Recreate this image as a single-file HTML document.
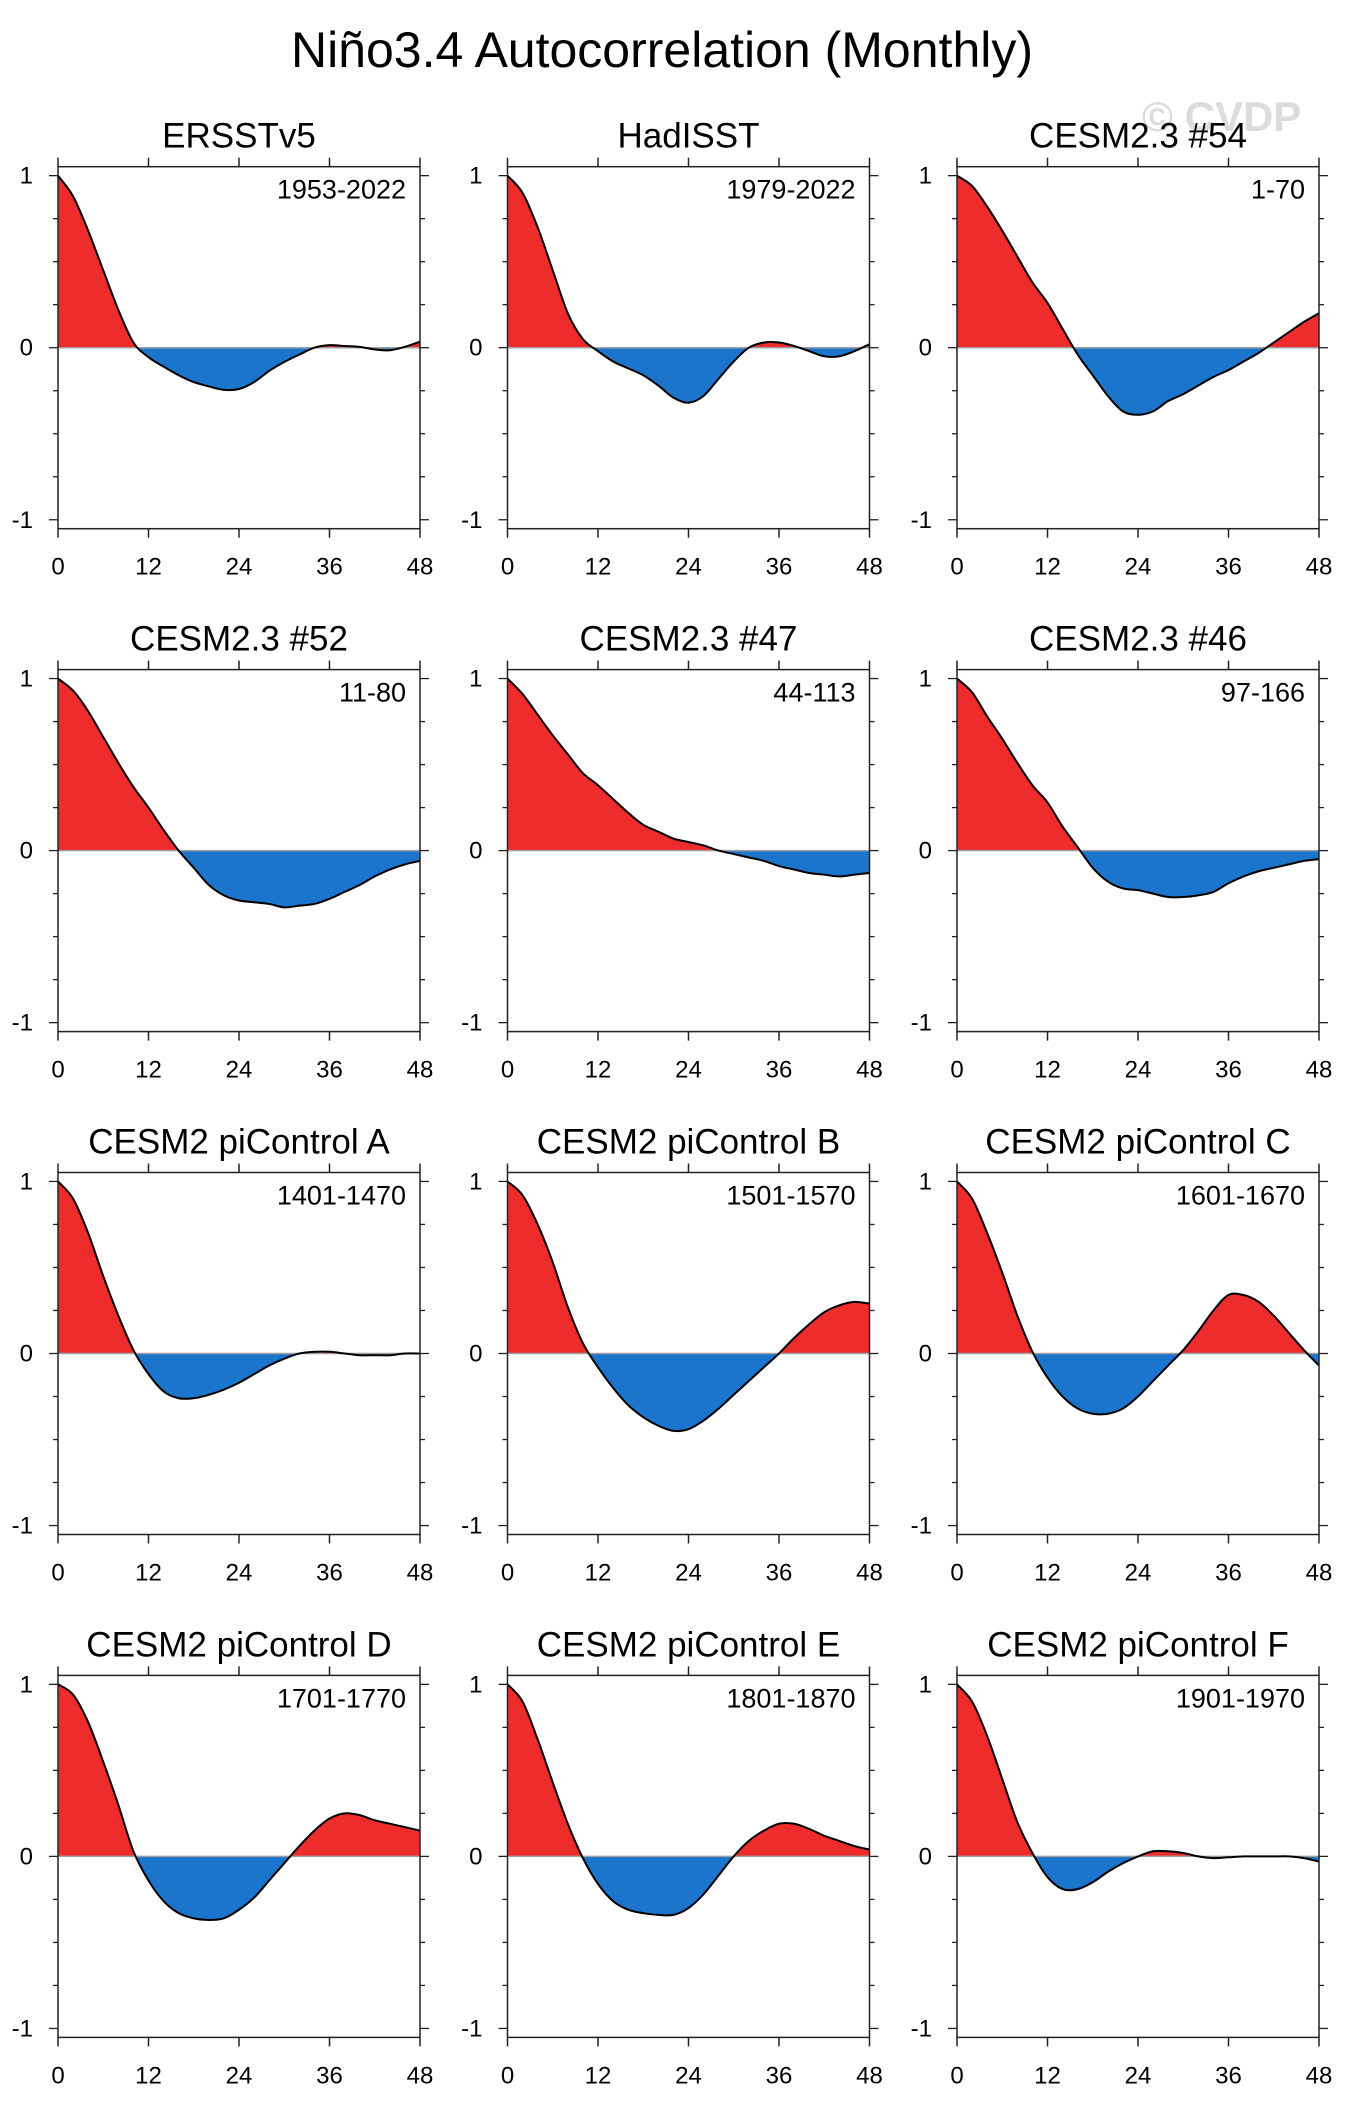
<!DOCTYPE html>
<html><head><meta charset="utf-8">
<style>
html,body{margin:0;padding:0;background:#fff;}
body{width:1347px;height:2113px;overflow:hidden;font-family:"Liberation Sans",sans-serif;}
svg text{font-family:"Liberation Sans",sans-serif;}
</style></head>
<body>
<svg id="fig" width="1347" height="2113" viewBox="0 0 1347 2113" xmlns="http://www.w3.org/2000/svg">
<text x="662" y="67" font-size="50" text-anchor="middle">Niño3.4 Autocorrelation (Monthly)</text>
<text x="1142" y="131" font-size="42" font-weight="bold" fill="#dcdcdc">© CVDP</text>
</svg>
<script>
const lags = [0,2,4,6,8,10,12,14,16,18,20,22,24,26,28,30,32,34,36,38,40,42,44,46,48];
const titles = ["ERSSTv5","HadISST","CESM2.3 #54","CESM2.3 #52","CESM2.3 #47","CESM2.3 #46","CESM2 piControl A","CESM2 piControl B","CESM2 piControl C","CESM2 piControl D","CESM2 piControl E","CESM2 piControl F"];
const periods = ["1953-2022","1979-2022","1-70","11-80","44-113","97-166","1401-1470","1501-1570","1601-1670","1701-1770","1801-1870","1901-1970"];
const xTicks = [0,12,24,36,48];
const yTicks = [1,0,-1];
const acERSST = [1,0.88,0.68,0.45,0.22,0.03,-0.055,-0.11,-0.16,-0.2,-0.225,-0.245,-0.24,-0.2,-0.135,-0.083,-0.04,0,0.015,0.01,0.005,-0.01,-0.015,0.005,0.035];
const acHadISST = [1,0.9,0.7,0.45,0.2,0.05,-0.02,-0.08,-0.12,-0.16,-0.22,-0.29,-0.32,-0.28,-0.18,-0.08,0,0.03,0.03,0.01,-0.02,-0.05,-0.05,-0.02,0.02];
const ac54 = [1,0.94,0.82,0.68,0.53,0.38,0.26,0.11,-0.04,-0.16,-0.28,-0.37,-0.39,-0.37,-0.31,-0.27,-0.22,-0.17,-0.13,-0.08,-0.03,0.03,0.09,0.15,0.2];
const ac52 = [1,0.93,0.81,0.66,0.51,0.37,0.25,0.12,0,-0.1,-0.2,-0.26,-0.29,-0.3,-0.31,-0.33,-0.32,-0.31,-0.28,-0.24,-0.2,-0.15,-0.11,-0.08,-0.06];
const ac47 = [1,0.91,0.79,0.67,0.56,0.45,0.38,0.3,0.22,0.15,0.11,0.07,0.05,0.03,0,-0.02,-0.04,-0.06,-0.09,-0.11,-0.13,-0.14,-0.15,-0.14,-0.13];
const ac46 = [1,0.92,0.78,0.65,0.51,0.38,0.28,0.14,0.02,-0.1,-0.18,-0.22,-0.23,-0.25,-0.27,-0.27,-0.26,-0.24,-0.19,-0.15,-0.12,-0.1,-0.08,-0.06,-0.05];
const acA = [1,0.9,0.7,0.45,0.22,0.02,-0.12,-0.22,-0.26,-0.26,-0.24,-0.21,-0.17,-0.12,-0.07,-0.03,0,0.01,0.01,0,-0.01,-0.01,-0.01,0,0];
const acB = [1,0.92,0.75,0.53,0.27,0.06,-0.08,-0.2,-0.3,-0.37,-0.42,-0.45,-0.44,-0.39,-0.32,-0.24,-0.16,-0.08,0,0.09,0.17,0.24,0.28,0.3,0.29];
const acC = [1,0.9,0.7,0.47,0.22,0.01,-0.14,-0.25,-0.32,-0.35,-0.35,-0.32,-0.25,-0.16,-0.07,0.02,0.13,0.25,0.34,0.34,0.3,0.22,0.12,0.02,-0.07];
const acD = [1,0.94,0.78,0.55,0.3,0.03,-0.14,-0.26,-0.33,-0.36,-0.37,-0.36,-0.31,-0.24,-0.14,-0.04,0.06,0.15,0.22,0.25,0.24,0.21,0.19,0.17,0.15];
const acE = [1,0.9,0.68,0.43,0.19,-0.01,-0.16,-0.26,-0.31,-0.33,-0.34,-0.34,-0.3,-0.22,-0.11,0,0.09,0.15,0.19,0.19,0.16,0.12,0.09,0.06,0.04];
const acF = [1,0.9,0.7,0.45,0.2,0.02,-0.12,-0.19,-0.19,-0.15,-0.09,-0.04,0,0.03,0.03,0.02,0,-0.01,-0.005,0,0,0,0,-0.01,-0.03];
const series = [acERSST,acHadISST,ac54,ac52,ac47,ac46,acA,acB,acC,acD,acE,acF];

const NS = "http://www.w3.org/2000/svg";
const fig = document.getElementById("fig");
const PW = 362, PH = 362, YMAX = 1.052, YMIN = -1.052;
function mk(tag, attrs, parent){const e=document.createElementNS(NS,tag);for(const k in attrs)e.setAttribute(k,attrs[k]);parent.appendChild(e);return e;}
function smoothPath(pts){
  let d = "M"+pts[0][0]+","+pts[0][1];
  for(let i=0;i<pts.length-1;i++){
    const p0=pts[Math.max(0,i-1)],p1=pts[i],p2=pts[i+1],p3=pts[Math.min(pts.length-1,i+2)];
    const c1x=p1[0]+(p2[0]-p0[0])/6,c1y=p1[1]+(p2[1]-p0[1])/6;
    const c2x=p2[0]-(p3[0]-p1[0])/6,c2y=p2[1]-(p3[1]-p1[1])/6;
    d+=" C"+c1x.toFixed(2)+","+c1y.toFixed(2)+" "+c2x.toFixed(2)+","+c2y.toFixed(2)+" "+p2[0].toFixed(2)+","+p2[1].toFixed(2);
  }
  return d;
}
series.forEach((vals, idx)=>{
  const col = idx%3, row = Math.floor(idx/3);
  const L = 58 + col*449.5, T = 166.7 + row*502.9;
  const xs = v => L + v/48*PW;
  const ys = v => T + (YMAX - v)/(YMAX-YMIN)*PH;
  const g = mk("g",{},fig);
  
  
  const y0 = ys(0);
  const pts = lags.map((l,i)=>[xs(l), ys(vals[i])]);
  const line = smoothPath(pts);
  const area = line + " L"+xs(48)+","+y0+" L"+xs(0)+","+y0+" Z";
  const cpA = mk("clipPath",{id:"ca"+idx},g); mk("rect",{x:L,y:T,width:PW,height:y0-T},cpA);
  const cpB = mk("clipPath",{id:"cb"+idx},g); mk("rect",{x:L,y:y0,width:PW,height:T+PH-y0},cpB);
  const pos = mk("path",{d:area,fill:"#ee2c2c","clip-path":"url(#ca"+idx+")"},g);
  
  
  const neg = mk("path",{d:area,fill:"#1c75cc","clip-path":"url(#cb"+idx+")"},g);
  
  
  const zl = mk("line",{x1:L,x2:L+PW,y1:y0,y2:y0,stroke:"#a0a0a0","stroke-width":1.5},g);
  
  
  const cl = mk("path",{d:line,fill:"none",stroke:"#000","stroke-width":2},g);
  
  
  const fr = mk("rect",{x:L,y:T,width:PW,height:PH,fill:"none",stroke:"#222","stroke-width":1.5},g);
  
  
  xTicks.forEach(t=>{
    const x = xs(t);
    mk("line",{x1:x,x2:x,y1:T,y2:T-9,stroke:"#222","stroke-width":1.5},g);
    mk("line",{x1:x,x2:x,y1:T+PH,y2:T+PH+9,stroke:"#222","stroke-width":1.5},g);
    const tx = mk("text",{x:x,y:T+PH+46,"font-size":24,"text-anchor":"middle"},g);
    tx.textContent = t;
    
    
  });
  for(let v=-1; v<=1.001; v+=0.25){
    const y = ys(v), major = Math.abs(v-Math.round(v))<1e-6;
    const len = major?9:5;
    mk("line",{x1:L,x2:L-len,y1:y,y2:y,stroke:"#222","stroke-width":1.3},g);
    mk("line",{x1:L+PW,x2:L+PW+len,y1:y,y2:y,stroke:"#222","stroke-width":1.3},g);
  }
  yTicks.forEach(t=>{
    const ty = mk("text",{x:L-25,y:ys(t)+8,"font-size":24,"text-anchor":"end"},g);
    ty.textContent = t;
    
    
  });
  const tt = mk("text",{x:L+PW/2,y:T-19,"font-size":35,"text-anchor":"middle"},g);
  tt.textContent = titles[idx];
  
  
  const pr = mk("text",{x:L+348,y:T+32,"font-size":27,"text-anchor":"end"},g);
  pr.textContent = periods[idx];
  
  
});
</script>
</body></html>
